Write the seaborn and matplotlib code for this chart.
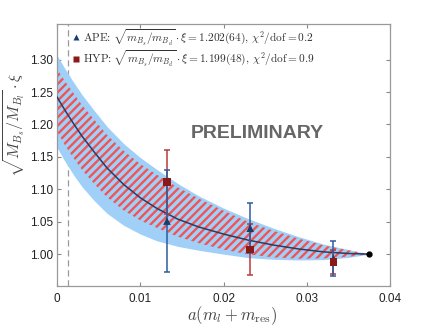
import numpy as np
import pandas as pd
import seaborn as sns
import matplotlib.pyplot as plt

sns.set_theme(style="white")
plt.rcParams['font.family'] = ['Liberation Sans', 'DejaVu Sans']
plt.rcParams['mathtext.fontset'] = 'cm'
plt.rcParams['hatch.linewidth'] = 1.7

# fit curve and error bands
band_x = [0.0, 0.001, 0.002, 0.003, 0.0045, 0.006, 0.008, 0.010, 0.012,
          0.0145, 0.017, 0.020, 0.023, 0.026, 0.029, 0.032, 0.035, 0.0375]
fit_y = [1.2425, 1.221, 1.201, 1.182, 1.157, 1.133, 1.1075, 1.087, 1.0705,
         1.054, 1.042, 1.031, 1.0215, 1.014, 1.008, 1.0035, 1.001, 1.000]
ape_hi = [1.3065, 1.285, 1.265, 1.246, 1.221, 1.197, 1.1705, 1.149, 1.1305,
          1.109, 1.090, 1.071, 1.0545, 1.040, 1.027, 1.0155, 1.007, 1.000]
ape_lo = [1.1645, 1.142, 1.122, 1.104, 1.082, 1.063, 1.0445, 1.031, 1.0205,
          1.012, 1.006, 1.000, 0.9945, 0.992, 0.991, 0.9915, 0.995, 1.000]
hyp_hi = [1.2855, 1.266, 1.248, 1.230, 1.207, 1.184, 1.1595, 1.139, 1.1225,
          1.103, 1.086, 1.067, 1.0495, 1.036, 1.024, 1.0135, 1.006, 1.000]
hyp_lo = [1.1895, 1.167, 1.148, 1.130, 1.108, 1.088, 1.0675, 1.052, 1.0405,
          1.027, 1.017, 1.007, 0.9995, 0.995, 0.993, 0.9935, 0.996, 1.000]

# lattice data points
ml = [0.0132, 0.0232, 0.0332]
ape_y = [1.051, 1.040, 0.993]
ape_err = [0.079, 0.039, 0.027]
hyp_y = [1.111, 1.007, 0.988]
hyp_err = [0.049, 0.039, 0.019]

ref_x, ref_y = 0.0375, 1.0
phys_x = 0.00136

ape_label = r"$\mathrm{APE}$: $\sqrt{m_{B_s}/m_{B_d}}\cdot\xi=1.202(64),\,\chi^2/\mathrm{dof}=0.2$"
hyp_label = r"$\mathrm{HYP}$: $\sqrt{m_{B_s}/m_{B_d}}\cdot\xi=1.199(48),\,\chi^2/\mathrm{dof}=0.9$"

fig = plt.figure(figsize=(4.32, 3.29), dpi=100)
ax = fig.add_axes([0.132, 0.131, 0.771, 0.796])

ax.fill_between(band_x, ape_lo, ape_hi, color='#a0d0f8', linewidth=0, zorder=1)
ax.fill_between(band_x, hyp_lo, hyp_hi, facecolor='none', edgecolor='#f05555',
                hatch='////', linewidth=0, zorder=2)

fit = pd.DataFrame({'x': band_x, 'y': fit_y})
sns.lineplot(data=fit, x='x', y='y', color='#2b3d66', linewidth=1.1, ax=ax, zorder=3)

ax.axvline(phys_x, color='#999999', linestyle=(0, (5, 3)), linewidth=0.9, zorder=0)

ax.errorbar(ml, hyp_y, yerr=hyp_err, fmt='none', ecolor='#b83a3a', elinewidth=1.1,
            capsize=2, capthick=1.1, zorder=4)
ax.errorbar(ml, ape_y, yerr=ape_err, fmt='none', ecolor='#2c5c9c', elinewidth=1.1,
            capsize=2, capthick=1.1, zorder=4)

pts = pd.DataFrame({
    'x': ml + ml,
    'y': ape_y + hyp_y,
    'set': [ape_label] * 3 + [hyp_label] * 3,
})
sns.scatterplot(data=pts, x='x', y='y', hue='set', style='set',
                palette=['#173d70', '#8a1a1a'], markers=['^', 's'],
                s=30, edgecolor='none', ax=ax, zorder=5)
ax.plot([ref_x], [ref_y], 'o', color='black', markersize=3.5, zorder=6)

ax.text(0.0240, 1.1866, 'PRELIMINARY', fontsize=14, fontweight='bold',
        color='#666666', ha='center', va='center')

ax.set_xlim(0, 0.04)
ax.set_ylim(0.951, 1.355)
ax.set_xticks([0, 0.01, 0.02, 0.03, 0.04])
ax.set_xticklabels(['0', '0.01', '0.02', '0.03', '0.04'])
ax.set_yticks([1.00, 1.05, 1.10, 1.15, 1.20, 1.25, 1.30])
ax.set_yticklabels(['1.00', '1.05', '1.10', '1.15', '1.20', '1.25', '1.30'])
ax.tick_params(direction='in', length=3, width=0.8, color='#888888',
               labelsize=8.5, labelcolor='#222222', top=True, right=True,
               bottom=True, left=True)
ax.tick_params(axis='x', pad=5)
ax.tick_params(axis='y', pad=3)
for sp in ax.spines.values():
    sp.set_color('#999999')
    sp.set_linewidth(0.9)

ax.set_xlabel(r"$a(m_l+m_{\rm res})$", fontsize=12, color='#444444')
ax.set_ylabel(r"$\sqrt{M_{B_s}/M_{B_l}}\cdot\xi$", fontsize=11.5, color='#444444')
ax.xaxis.set_label_coords(0.526, -0.115)
ax.yaxis.set_label_coords(-0.128, 0.615)
ax.xaxis.label.set_va('center')
ax.yaxis.label.set_va('center')

leg = ax.legend(loc='upper left', bbox_to_anchor=(0.035, 1.0), frameon=False,
                handlelength=0.6, handletextpad=0.4,
                labelspacing=0.15, borderaxespad=0.1, borderpad=0.2,
                markerscale=0.9, prop={'family': 'Liberation Serif', 'size': 8.2})
for t in leg.get_texts():
    t.set_color('#333333')

fig.savefig('out.png', dpi=100)
